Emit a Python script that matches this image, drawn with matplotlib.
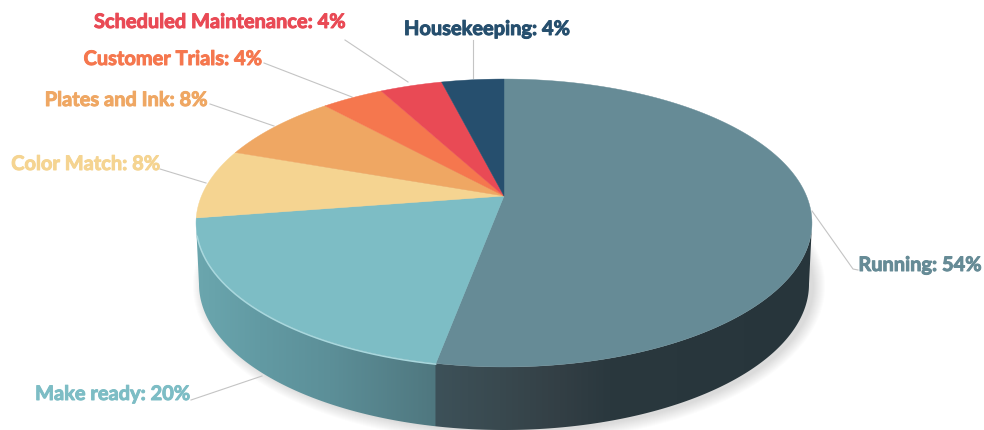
import matplotlib
matplotlib.use("Agg")
import matplotlib.patheffects as pe
import matplotlib.pyplot as plt
import numpy as np
from matplotlib.colors import to_rgb
from matplotlib.patches import Ellipse, Polygon

# Clockwise from twelve o'clock
categories = ["Running", "Make ready", "Color Match", "Plates and Ink",
              "Customer Trials", "Scheduled Maintenance", "Housekeeping"]
values = [54, 20, 8, 8, 4, 4, 4]
colors = ["#668b96", "#7dbdc5", "#f5d491", "#efa763", "#f5774e", "#e94a55", "#264f6e"]

# Pixel layout of the tilted disc
apex_x, apex_y = 504, 197
persp, scale_x, scale_y = 0.1875, 302.5, 138.9
top_cy, top_rx, top_ry = 224, 308, 144
bot_cy, bot_rx, bot_ry = 285, 305, 146


def project(theta):
    # theta clockwise from the top of the disc, with a simple perspective
    u, v = np.sin(theta), np.cos(theta)
    d = 1 + persp * v
    return apex_x + scale_x * u / d, apex_y - scale_y * v / d


def lower_arc(cy, rx, ry, n=400):
    # left to right along the near side of an ellipse
    t = np.linspace(np.pi, 0, n)
    return apex_x + rx * np.cos(t), cy + ry * np.sin(t)


fig, ax = plt.subplots(figsize=(9.84, 4.31), dpi=100)
ax.set_position([0, 0, 1, 1])
ax.axis("off")

# Soft drop shadow under the disc
for i in range(12):
    grow = 11 - i
    ax.add_patch(Ellipse((apex_x + 5, bot_cy + 2), 2 * (bot_rx + grow), 2 * (bot_ry + grow),
                         fc="#707070", ec="none", alpha=0.018, zorder=1))

edges = 2 * np.pi * np.cumsum([0] + values) / np.sum(values)
split_x = project(edges[1])[0]

# Side wall: shaded strip clipped to the outline between both rims
tx, ty = lower_arc(top_cy, top_rx, top_ry)
bx, by = lower_arc(bot_cy, bot_rx, bot_ry)
wall = np.column_stack([np.r_[tx, bx[::-1]], np.r_[ty, by[::-1]]])
xs = np.linspace(apex_x - top_rx, apex_x + top_rx, 616)
stops_x = [197, 215, 260, 330, split_x - 1, split_x, 500, 560, 610, 812]
stops_c = ["#6ba6ae", "#68a3ab", "#629aa3", "#5c8f98", "#4f777f",
           "#3d5159", "#39494f", "#333f45", "#2a383e", "#27353b"]
rgb = np.array([to_rgb(c) for c in stops_c])
grad = np.stack([np.interp(xs, stops_x, rgb[:, i]) for i in range(3)], axis=1)
im = ax.imshow(grad[None, :, :], extent=(xs[0], xs[-1], 434, 200), aspect="auto", zorder=2)
clip = Polygon(wall, closed=True, transform=ax.transData, fc="none", ec="none")
ax.add_patch(clip)
im.set_clip_path(clip)

# Top face of the disc
for start, end, color in zip(edges[:-1], edges[1:], colors):
    t = np.linspace(start, end, 200)
    px, py = project(t)
    ax.fill(np.r_[apex_x, px], np.r_[apex_y, py], fc=color, ec=color, lw=0.3, zorder=3)

# Bright rim where the light catches the near edge
t = np.linspace(edges[1], edges[2] - 0.12, 150)
px, py = project(t)
ax.plot(px, py + 0.8, color="#a9d8de", lw=1.1, zorder=4, solid_capstyle="round")

# Leader lines
leaders = {
    "Running": ([812, 853, 858], [212, 270, 271]),
    "Make ready": ([191, 262], [401, 377]),
    "Color Match": ([160, 206], [170, 184]),
    "Plates and Ink": ([210, 274], [105, 127]),
    "Customer Trials": ([264, 352], [64, 98]),
    "Scheduled Maintenance": ([345, 408], [41, 83]),
    "Housekeeping": ([473, 473], [41, 79]),
}
for name in categories:
    lx, ly = leaders[name]
    ax.plot(lx, ly, color="#c4c4c4", lw=0.8, zorder=2.5)

# Value labels, anchored at their right edge
label_pos = {
    "Running": (982, 266),
    "Make ready": (190, 395),
    "Color Match": (160, 165),
    "Plates and Ink": (208, 101),
    "Customer Trials": (262, 60),
    "Scheduled Maintenance": (346, 23),
    "Housekeeping": (570, 30),
}
for name, value, color in zip(categories, values, colors):
    x, y = label_pos[name]
    ax.text(x, y, f"{name}: {value}%", color=color, ha="right", va="center",
            family=["Lato", "DejaVu Sans"], fontweight="bold", fontsize=14.4, zorder=5,
            path_effects=[pe.withStroke(linewidth=0.7, foreground=color)])

ax.set_xlim(0, 984)
ax.set_ylim(431, 0)
fig.savefig("out.png", dpi=100)
